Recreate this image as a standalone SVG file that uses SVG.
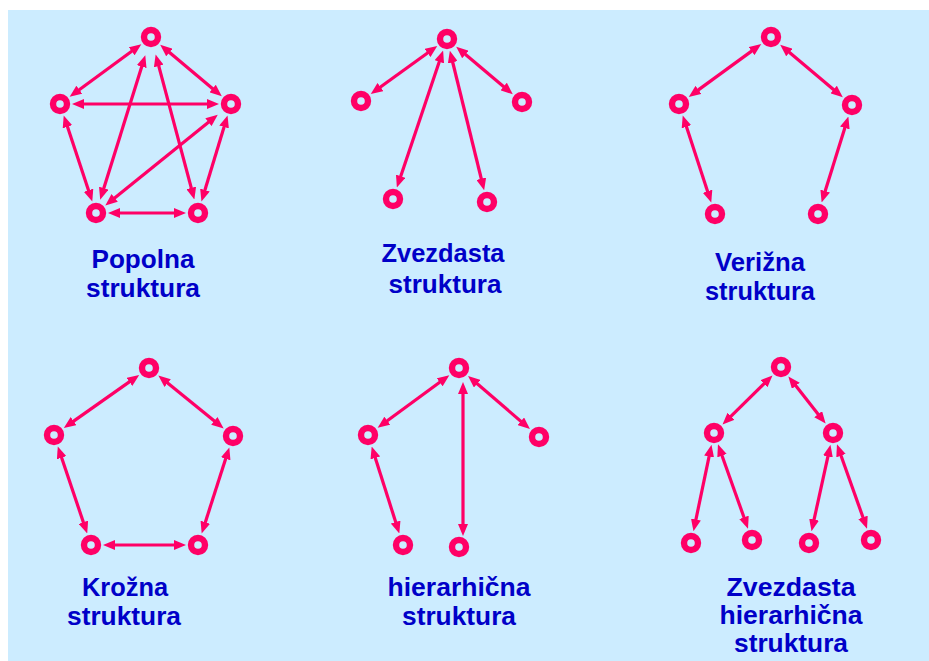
<svg xmlns="http://www.w3.org/2000/svg" width="929" height="661" viewBox="0 0 929 661">
  <defs>
    <style>
      .node { fill: none; stroke: #FF0066; stroke-width: 6.4; }
      .edge { stroke: #FF0066; stroke-width: 3.2; fill: none; marker-start: url(#ah); marker-end: url(#ah); }
      .label { font-family: "Liberation Sans", Arial, sans-serif; font-weight: bold; font-size: 25px; fill: #0000C8; text-anchor: middle; }
    </style>
    <marker id="ah" viewBox="0 0 12 10" refX="6" refY="5" markerWidth="12" markerHeight="10" markerUnits="userSpaceOnUse" orient="auto-start-reverse">
      <path d="M0,0 L12,5 L0,10 z" fill="#FF0066"/>
    </marker>
  </defs>

  <rect x="0" y="0" width="929" height="661" fill="#FFFFFF"/>
  <rect x="8" y="10" width="921" height="651" fill="#CCECFF"/>

  <!-- connectors -->
  <g id="connectors">
    <!-- Popolna -->
    <line class="edge" x1="136.5" y1="47.7" x2="74.5" y2="93.3"/>
    <line class="edge" x1="164.8" y1="48.6" x2="217.2" y2="92.4"/>
    <line class="edge" x1="78" y1="104" x2="213" y2="104"/>
    <line class="edge" x1="65.6" y1="121.1" x2="90.4" y2="195.9"/>
    <line class="edge" x1="225.8" y1="121.2" x2="203.2" y2="195.8"/>
    <line class="edge" x1="114" y1="213" x2="180" y2="213"/>
    <line class="edge" x1="143.5" y1="60.9" x2="102" y2="193.9"/>
    <line class="edge" x1="157.2" y1="60.2" x2="192.8" y2="193.7"/>
    <line class="edge" x1="213.1" y1="118.4" x2="110" y2="201.7"/>
    <!-- Zvezdasta -->
    <line class="edge" x1="432.4" y1="49.5" x2="375.6" y2="90.5"/>
    <line class="edge" x1="460.8" y1="50.6" x2="508.2" y2="90.4"/>
    <line class="edge" x1="441.2" y1="56.1" x2="398.8" y2="181.9"/>
    <line class="edge" x1="451.3" y1="56.5" x2="482.7" y2="184.5"/>
    <!-- Verizna -->
    <line class="edge" x1="756.4" y1="47.6" x2="693.6" y2="93.4"/>
    <line class="edge" x1="784.8" y1="48.6" x2="838.2" y2="93.4"/>
    <line class="edge" x1="684.6" y1="121.1" x2="709.4" y2="196.9"/>
    <line class="edge" x1="846.6" y1="122.2" x2="823.4" y2="196.8"/>
    <!-- Krozna -->
    <line class="edge" x1="134.3" y1="378.4" x2="68.7" y2="424.6"/>
    <line class="edge" x1="163" y1="379.3" x2="219" y2="424.7"/>
    <line class="edge" x1="59.7" y1="452.1" x2="85.3" y2="527.9"/>
    <line class="edge" x1="227.5" y1="453.1" x2="203.5" y2="527.9"/>
    <line class="edge" x1="109" y1="545" x2="180" y2="545"/>
    <!-- hierarhicna -->
    <line class="edge" x1="444.5" y1="378.7" x2="382.5" y2="424.3"/>
    <line class="edge" x1="472.6" y1="379.8" x2="525.4" y2="425.2"/>
    <line class="edge" x1="463" y1="388" x2="463" y2="530"/>
    <line class="edge" x1="373.5" y1="452.2" x2="397.5" y2="527.8"/>
    <!-- Zvezdasta hierarhicna -->
    <line class="edge" x1="768.2" y1="379.6" x2="726.8" y2="420.4"/>
    <line class="edge" x1="792.1" y1="381.1" x2="821.9" y2="418.9"/>
    <line class="edge" x1="710.3" y1="450.6" x2="694.7" y2="525.4"/>
    <line class="edge" x1="720" y1="450" x2="746" y2="523"/>
    <line class="edge" x1="829.2" y1="450.6" x2="812.8" y2="525.4"/>
    <line class="edge" x1="839" y1="450" x2="865" y2="523"/>
  </g>

  <!-- Popolna struktura -->
  <g id="popolna">
    <circle class="node" cx="151" cy="37" r="7"/>
    <circle class="node" cx="60" cy="104" r="7"/>
    <circle class="node" cx="231" cy="104" r="7"/>
    <circle class="node" cx="96" cy="213" r="7"/>
    <circle class="node" cx="198" cy="213" r="7"/>
    <text class="label" x="143" y="268" textLength="103" lengthAdjust="spacingAndGlyphs">Popolna</text>
    <text class="label" x="143" y="297" textLength="114" lengthAdjust="spacingAndGlyphs">struktura</text>
  </g>

  <!-- Zvezdasta struktura -->
  <g id="zvezdasta">
    <circle class="node" cx="447" cy="39" r="7"/>
    <circle class="node" cx="361" cy="101" r="7"/>
    <circle class="node" cx="522" cy="102" r="7"/>
    <circle class="node" cx="393" cy="199" r="7"/>
    <circle class="node" cx="487" cy="202" r="7"/>
    <text class="label" x="443" y="262" textLength="123" lengthAdjust="spacingAndGlyphs">Zvezdasta</text>
    <text class="label" x="445" y="293" textLength="113" lengthAdjust="spacingAndGlyphs">struktura</text>
  </g>

  <!-- Verizna struktura -->
  <g id="verizna">
    <circle class="node" cx="771" cy="37" r="7"/>
    <circle class="node" cx="679" cy="104" r="7"/>
    <circle class="node" cx="852" cy="105" r="7"/>
    <circle class="node" cx="715" cy="214" r="7"/>
    <circle class="node" cx="818" cy="214" r="7"/>
    <text class="label" x="760" y="271" textLength="90" lengthAdjust="spacingAndGlyphs">Verižna</text>
    <text class="label" x="760" y="300" textLength="110" lengthAdjust="spacingAndGlyphs">struktura</text>
  </g>

  <!-- Krozna struktura -->
  <g id="krozna">
    <circle class="node" cx="149" cy="368" r="7"/>
    <circle class="node" cx="54" cy="435" r="7"/>
    <circle class="node" cx="233" cy="436" r="7"/>
    <circle class="node" cx="91" cy="545" r="7"/>
    <circle class="node" cx="198" cy="545" r="7"/>
    <text class="label" x="125" y="596" textLength="86" lengthAdjust="spacingAndGlyphs">Krožna</text>
    <text class="label" x="124" y="625" textLength="114" lengthAdjust="spacingAndGlyphs">struktura</text>
  </g>

  <!-- hierarhicna struktura -->
  <g id="hierarhicna">
    <circle class="node" cx="459" cy="368" r="7"/>
    <circle class="node" cx="368" cy="435" r="7"/>
    <circle class="node" cx="539" cy="437" r="7"/>
    <circle class="node" cx="403" cy="545" r="7"/>
    <circle class="node" cx="459" cy="547" r="7"/>
    <text class="label" x="459" y="596" textLength="143" lengthAdjust="spacingAndGlyphs">hierarhična</text>
    <text class="label" x="459" y="625" textLength="114" lengthAdjust="spacingAndGlyphs">struktura</text>
  </g>

  <!-- Zvezdasta hierarhicna struktura -->
  <g id="zvezdasta-hierarhicna">
    <circle class="node" cx="781" cy="367" r="7"/>
    <circle class="node" cx="714" cy="433" r="7"/>
    <circle class="node" cx="833" cy="433" r="7"/>
    <circle class="node" cx="691" cy="543" r="7"/>
    <circle class="node" cx="752" cy="540" r="7"/>
    <circle class="node" cx="809" cy="543" r="7"/>
    <circle class="node" cx="871" cy="540" r="7"/>
    <text class="label" x="791" y="596" textLength="129" lengthAdjust="spacingAndGlyphs">Zvezdasta</text>
    <text class="label" x="791" y="624" textLength="143" lengthAdjust="spacingAndGlyphs">hierarhična</text>
    <text class="label" x="791" y="652" textLength="114" lengthAdjust="spacingAndGlyphs">struktura</text>
  </g>
</svg>
